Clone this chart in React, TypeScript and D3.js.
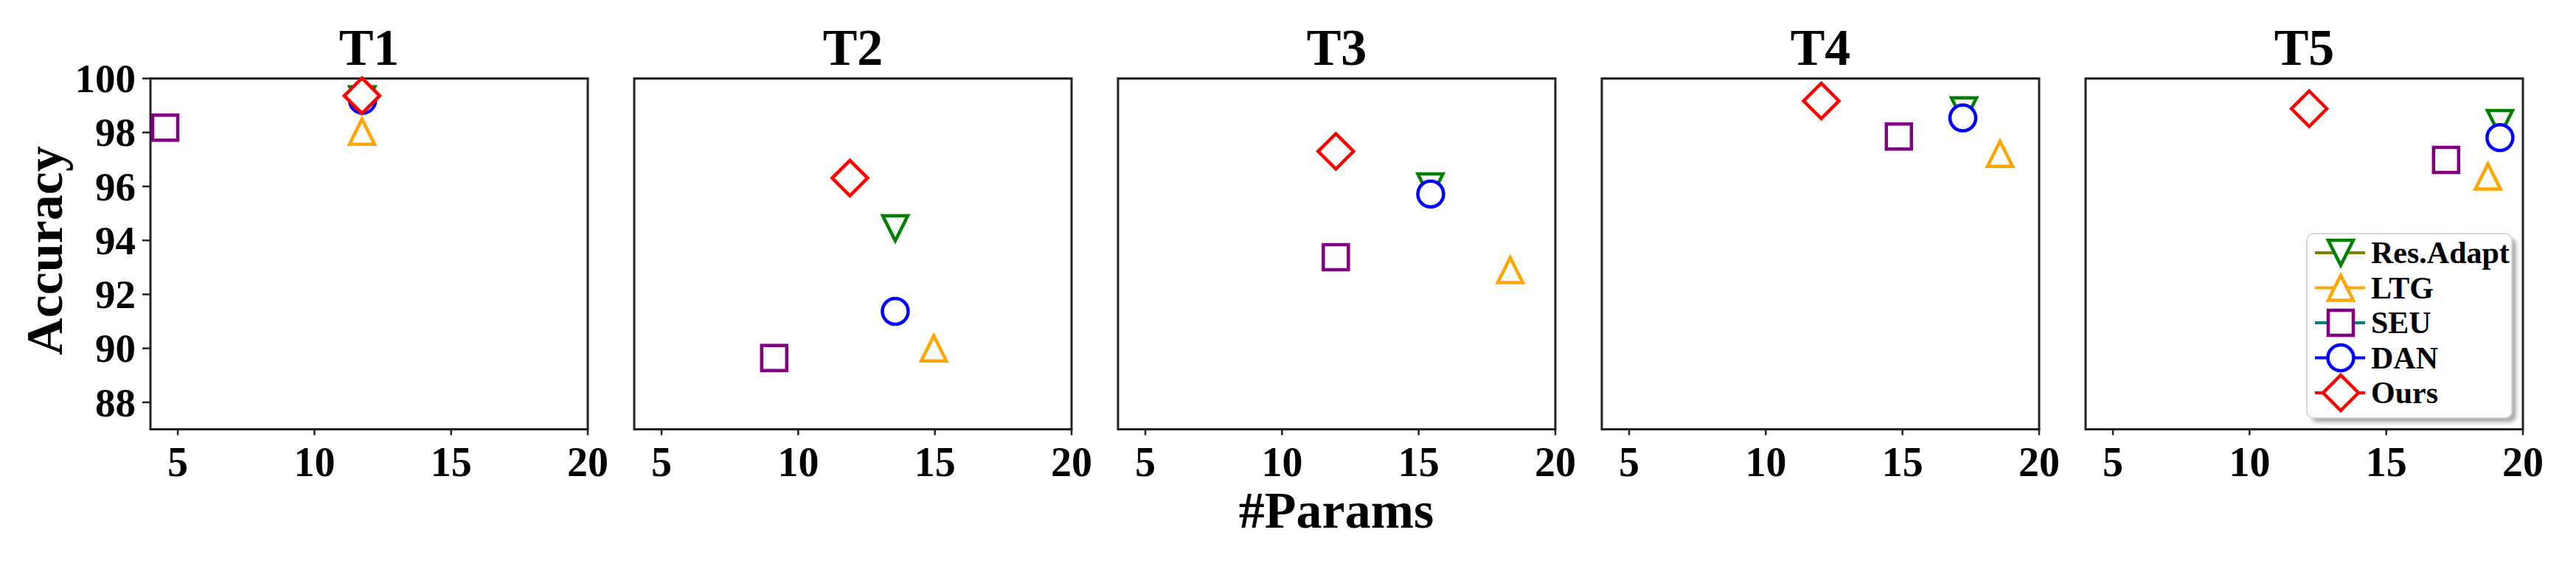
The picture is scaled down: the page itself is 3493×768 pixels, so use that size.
import React from 'react';
import * as d3 from 'd3';

const tasks = ['T1', 'T2', 'T3', 'T4', 'T5'];
const methods = ['Res.Adapt', 'LTG', 'SEU', 'DAN', 'Ours'];

const resAdaptParams = [11.75, 13.55, 15.43, 17.25, 19.16];
const resAdaptAcc = [99.23, 94.45, 96.0, 98.82, 98.35];
const ltgParams = [11.74, 14.96, 18.35, 18.57, 18.72];
const ltgAcc = [98.03, 90.0, 92.9, 97.21, 96.37];
const seuParams = [4.54, 9.12, 11.97, 14.87, 17.19];
const seuAcc = [98.18, 89.64, 93.38, 97.85, 96.98];
const danParams = [11.76, 13.55, 15.44, 17.21, 19.16];
const danAcc = [99.19, 91.37, 95.72, 98.54, 97.81];
const oursParams = [11.74, 11.89, 11.97, 12.03, 12.18];
const oursAcc = [99.36, 96.31, 97.3, 99.17, 98.88];

const xTicks = [5, 10, 15, 20];
const yTicks = [88, 90, 92, 94, 96, 98, 100];
const xDomain = [4, 20];
const yDomain = [87, 100];

type Marker = 'triDown' | 'triUp' | 'square' | 'circle' | 'diamond';

const series = [
  { name: methods[0], xs: resAdaptParams, ys: resAdaptAcc, marker: 'triDown' as Marker, color: '#008000', line: '#808000' },
  { name: methods[1], xs: ltgParams, ys: ltgAcc, marker: 'triUp' as Marker, color: '#FFA500', line: '#FFA500' },
  { name: methods[2], xs: seuParams, ys: seuAcc, marker: 'square' as Marker, color: '#800080', line: '#008080' },
  { name: methods[3], xs: danParams, ys: danAcc, marker: 'circle' as Marker, color: '#0000FF', line: '#0000FF' },
  { name: methods[4], xs: oursParams, ys: oursAcc, marker: 'diamond' as Marker, color: '#FF0000', line: '#FF0000' },
];

const W = 3493;
const H = 768;
const panelLeft0 = 204;
const panelStep = 656;
const panelW = 593;
const top = 106.5;
const bottom = 582.5;
const FONT = '"Liberation Serif", "Times New Roman", serif';
const SW = 4.5;

function markerPath(m: Marker): string {
  const h = 17;
  const d = 24;
  switch (m) {
    case 'triDown':
      return `M${-h},${-h}L${h},${-h}L0,${h}Z`;
    case 'triUp':
      return `M0,${-h}L${h},${h}L${-h},${h}Z`;
    case 'square':
      return `M${-h},${-h}L${h},${-h}L${h},${h}L${-h},${h}Z`;
    case 'circle': {
      const r = 17.5;
      return `M${r},0A${r},${r} 0 1,1 ${-r},0A${r},${r} 0 1,1 ${r},0Z`;
    }
    case 'diamond':
      return `M0,${-d}L${d},0L0,${d}L${-d},0Z`;
  }
}

function MarkerShape({ m, color, x, y }: { m: Marker; color: string; x: number; y: number }) {
  return (
    <path
      d={markerPath(m)}
      transform={`translate(${x},${y})`}
      fill="#fff"
      stroke={color}
      strokeWidth={SW}
      strokeLinejoin="miter"
      strokeMiterlimit={10}
    />
  );
}

function Panel({ idx }: { idx: number }) {
  const left = panelLeft0 + idx * panelStep;
  const x = d3.scaleLinear().domain(xDomain).range([left, left + panelW]);
  const y = d3.scaleLinear().domain(yDomain).range([bottom, top]);
  return (
    <g>
      <text x={left + panelW / 2} y={88} textAnchor="middle" fontFamily={FONT} fontWeight="bold" fontSize={70}>
        {tasks[idx]}
      </text>
      {xTicks.map((t) => (
        <g key={'x' + t}>
          <line x1={x(t)} x2={x(t)} y1={bottom} y2={bottom + 8} stroke="#222" strokeWidth={2.5} />
          <text x={x(t)} y={646} textAnchor="middle" fontFamily={FONT} fontWeight="bold" fontSize={56}>
            {t}
          </text>
        </g>
      ))}
      {idx === 0 &&
        yTicks.map((t) => (
          <g key={'y' + t}>
            <line x1={left - 11} x2={left} y1={y(t)} y2={y(t)} stroke="#222" strokeWidth={2.5} />
            <text x={184} y={y(t)} dy="0.34em" textAnchor="end" fontFamily={FONT} fontWeight="bold" fontSize={55}>
              {t}
            </text>
          </g>
        ))}
      <rect x={left} y={top} width={panelW} height={bottom - top} fill="none" stroke="#222" strokeWidth={3} />
      {series.map((s) => (
        <MarkerShape key={s.name} m={s.marker} color={s.color} x={x(s.xs[idx])} y={y(s.ys[idx])} />
      ))}
    </g>
  );
}

function Legend() {
  const lx = 3128;
  const ly = 317;
  const lw = 278;
  const lh = 250;
  const rowY = d3.scaleLinear().domain([0, 4]).range([343, 533]);
  return (
    <g>
      <defs>
        <filter id="legshadow" x="-10%" y="-10%" width="130%" height="130%">
          <feGaussianBlur stdDeviation="2.5" />
        </filter>
      </defs>
      <rect x={lx + 6} y={ly + 6} width={lw} height={lh} rx={9} fill="#888" opacity={0.7} filter="url(#legshadow)" />
      <rect x={lx} y={ly} width={lw} height={lh} rx={9} fill="#fff" stroke="#d8d8d8" strokeWidth={2} />
      {series.map((s, i) => (
        <g key={s.name}>
          <line x1={3139} x2={3207} y1={rowY(i)} y2={rowY(i)} stroke={s.line} strokeWidth={4} />
          <MarkerShape m={s.marker} color={s.color} x={3174} y={rowY(i)} />
          <text x={3215} y={rowY(i)} dy="0.34em" fontFamily={FONT} fontWeight="bold" fontSize={42}>
            {s.name}
          </text>
        </g>
      ))}
    </g>
  );
}

export default function App() {
  return (
    <svg
      width={W}
      height={H}
      viewBox={`0 0 ${W} ${H}`}
      style={{ position: 'absolute', left: 0, top: 0, background: '#fff' }}
    >
      <rect x={0} y={0} width={W} height={H} fill="#fff" />
      {tasks.map((t, i) => (
        <Panel key={t} idx={i} />
      ))}
      <Legend />
      <text
        transform={`translate(84,340) rotate(-90)`}
        textAnchor="middle"
        fontFamily={FONT}
        fontWeight="bold"
        fontSize={70}
      >
        Accuracy
      </text>
      <text x={1812} y={716} textAnchor="middle" fontFamily={FONT} fontWeight="bold" fontSize={70}>
        #Params
      </text>
    </svg>
  );
}
